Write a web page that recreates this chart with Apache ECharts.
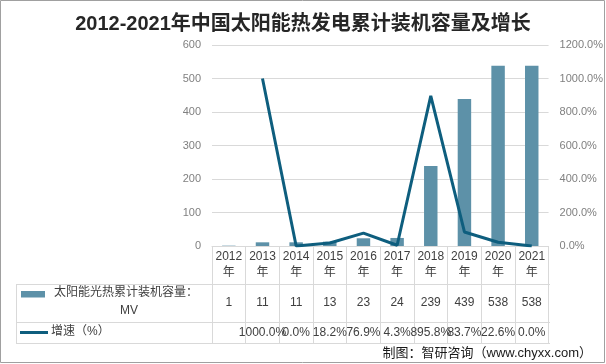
<!DOCTYPE html>
<html>
<head>
<meta charset="utf-8">
<script src="https://cdn.jsdelivr.net/npm/echarts@6/dist/echarts.min.js"></script>
<style>html,body{margin:0;padding:0;background:#fff}#c{width:606px;height:364px}</style>
</head>
<body>
<div id="c"></div>
<script>
// ---- data ----
const titleText = '2012-2021年中国太阳能热发电累计装机容量及增长';
const years = ['2012年','2013年','2014年','2015年','2016年','2017年','2018年','2019年','2020年','2021年'];
const capacity = [1, 11, 11, 13, 23, 24, 239, 439, 538, 538];
const growth = [null, 1000.0, 0.0, 18.2, 76.9, 4.3, 895.8, 83.7, 22.6, 0.0];
const capacityName = '太阳能光热累计装机容量：';
const capacityUnit = 'MV';
const growthName = '增速（%）';
const leftAxis = [0, 600, 100];
const rightAxis = [0, 1200, 200];
const sourceText = '制图：智研咨询（www.chyxx.com）';

const BAR = '#5d91a8', LINE = '#0e5e7e', GRIDC = '#d9d9d9', FONT = '"Liberation Sans","Noto Sans CJK SC",sans-serif';
const GL = 212, GR = 56, GB = 118, GT = 45, W = 606;
const PR = W - GR;

const chart = echarts.init(document.getElementById('c'), null, {renderer: 'canvas'});
chart.setOption({
  animation: false,
  textStyle: {fontFamily: FONT},
  title: {text: titleText, left: 'center', top: 12, padding: 0,
    textStyle: {fontSize: 20, fontWeight: 'bold', color: '#262626', fontFamily: FONT, lineHeight: 24}},
  grid: {left: GL, right: GR, top: GT, bottom: GB},
  xAxis: [
    {type: 'category', data: years, position: 'bottom',
      axisLine: {lineStyle: {color: GRIDC}},
      axisTick: {show: true, interval: 0, length: 97, lineStyle: {color: GRIDC}},
      axisLabel: {interval: 0, margin: 3, fontSize: 12, lineHeight: 16, color: '#404040',
        formatter: v => v.replace('年', '\n年')}},
    {type: 'category', data: years, position: 'bottom', offset: 50,
      axisLine: {show: false}, axisTick: {show: false},
      axisLabel: {interval: 0, margin: 0, fontSize: 12, lineHeight: 14, color: '#404040',
        formatter: (v, i) => String(capacity[i])}},
    {type: 'category', data: years, position: 'bottom', offset: 80,
      axisLine: {show: false}, axisTick: {show: false},
      axisLabel: {interval: 0, margin: 0, fontSize: 12, lineHeight: 14, color: '#404040', hideOverlap: false,
        formatter: (v, i) => growth[i] == null ? '' : growth[i].toFixed(1) + '%'}}
  ],
  yAxis: [
    {type: 'value', min: leftAxis[0], max: leftAxis[1], interval: leftAxis[2],
      axisLine: {show: false}, axisTick: {show: false},
      splitLine: {lineStyle: {color: GRIDC}},
      axisLabel: {margin: 11, fontSize: 11, color: '#808080'}},
    {type: 'value', min: rightAxis[0], max: rightAxis[1], interval: rightAxis[2], position: 'right',
      axisLine: {show: false}, axisTick: {show: false}, splitLine: {show: false},
      axisLabel: {margin: 11, fontSize: 11, color: '#808080', formatter: v => v.toFixed(1) + '%'}}
  ],
  series: [
    {name: capacityName + capacityUnit, type: 'bar', data: capacity, barWidth: '40%',
      itemStyle: {color: BAR}, xAxisIndex: 0, yAxisIndex: 0},
    {name: growthName, type: 'line', data: growth, xAxisIndex: 0, yAxisIndex: 1,
      showSymbol: false, symbol: 'none', lineStyle: {color: LINE, width: 3}, itemStyle: {color: LINE}}
  ],
  graphic: [
    {type: 'rect', shape: {x: 0.5, y: 0.5, width: 604, height: 362}, style: {fill: null, stroke: '#a0a0a0', lineWidth: 1}, silent: true},
    {type: 'line', shape: {x1: 16, y1: 284.5, x2: PR, y2: 284.5}, style: {stroke: GRIDC, lineWidth: 1}},
    {type: 'line', shape: {x1: 16, y1: 322.5, x2: PR, y2: 322.5}, style: {stroke: GRIDC, lineWidth: 1}},
    {type: 'line', shape: {x1: 16, y1: 343.5, x2: PR, y2: 343.5}, style: {stroke: GRIDC, lineWidth: 1}},
    {type: 'line', shape: {x1: 16.5, y1: 284, x2: 16.5, y2: 343.5}, style: {stroke: GRIDC, lineWidth: 1}},
    {type: 'rect', shape: {x: 21, y: 291, width: 24, height: 6.5}, style: {fill: BAR}},
    {type: 'text', x: 126, y: 293, style: {text: capacityName, font: '12px ' + FONT, fill: '#404040', textAlign: 'center', textVerticalAlign: 'middle'}},
    {type: 'text', x: 129, y: 311, style: {text: capacityUnit, font: '12px ' + FONT, fill: '#404040', textAlign: 'center', textVerticalAlign: 'middle'}},
    {type: 'line', shape: {x1: 20, y1: 332.5, x2: 48, y2: 332.5}, style: {stroke: LINE, lineWidth: 3}},
    {type: 'text', x: 51, y: 332, style: {text: growthName, font: '12px ' + FONT, fill: '#404040', textAlign: 'left', textVerticalAlign: 'middle'}},
    {type: 'text', x: 592, y: 353, style: {text: sourceText, font: '13px ' + FONT, fill: '#1a1a1a', textAlign: 'right', textVerticalAlign: 'middle'}}
  ]
});
</script>
</body>
</html>
